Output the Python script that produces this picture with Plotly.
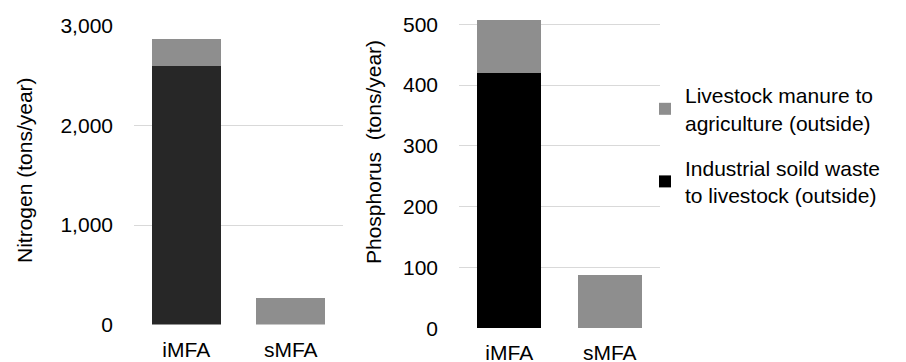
import plotly.graph_objects as go

categories = ["iMFA", "sMFA"]
n_industrial = [2600, 0]
n_manure = [270, 265]
p_industrial = [420, 0]
p_manure = [87, 88]
n_ticks = [0, 1000, 2000, 3000]
n_ticktext = ["0", "1,000", "2,000", "3,000"]
p_ticks = [0, 100, 200, 300, 400, 500]

W, H = 906, 362
GRAY = "#8e8e8e"
FONT = "Liberation Sans, Arial, sans-serif"
FS = 21
IND = "Industrial soild waste<br>to livestock (outside)"
MAN = "Livestock manure to<br>agriculture (outside)"

fig = go.Figure()
fig.add_trace(go.Bar(x=categories, y=n_industrial, marker_color="#272727", width=0.66,
                     name=IND, legendgroup="ind", legendrank=2, showlegend=False,
                     xaxis="x", yaxis="y"))
fig.add_trace(go.Bar(x=categories, y=n_manure, marker_color=GRAY, width=0.66,
                     name=MAN, legendgroup="man", legendrank=1, showlegend=False,
                     xaxis="x", yaxis="y"))
fig.add_trace(go.Bar(x=categories, y=p_industrial, marker_color="#000000", width=0.64,
                     name=IND, legendgroup="ind", legendrank=2, showlegend=True,
                     xaxis="x2", yaxis="y2"))
fig.add_trace(go.Bar(x=categories, y=p_manure, marker_color=GRAY, width=0.64,
                     name=MAN, legendgroup="man", legendrank=1, showlegend=True,
                     xaxis="x2", yaxis="y2"))
fig.update_traces(marker_line_width=0)

def px_x(v):
    return v / W

def px_y(v):
    return 1 - v / H

axis_common = dict(showline=False, zeroline=False, ticks="", automargin=False,
                   tickfont=dict(family=FONT, size=FS, color="#000000"))

fig.update_layout(
    width=W, height=H,
    barmode="stack",
    plot_bgcolor="white", paper_bgcolor="white",
    margin=dict(l=0, r=0, t=0, b=0),
    font=dict(family=FONT, size=FS, color="#000000"),
    xaxis=dict(domain=[px_x(134), px_x(343)], anchor="y", showgrid=False,
               ticklabelstandoff=10, **axis_common),
    yaxis=dict(domain=[px_y(324.5), px_y(26)], anchor="x", range=[0, 3000],
               tickvals=n_ticks, ticktext=n_ticktext, showgrid=True,
               gridcolor="#d9d9d9", gridwidth=1, ticklabelstandoff=20, **axis_common),
    xaxis2=dict(domain=[px_x(459), px_x(660)], anchor="y2", showgrid=False,
                ticklabelstandoff=10, **axis_common),
    yaxis2=dict(domain=[px_y(328.3), px_y(12.1)], anchor="x2", range=[0, 520],
                tickvals=p_ticks, showgrid=True, gridcolor="#d9d9d9", gridwidth=1,
                ticklabelstandoff=20, **axis_common),
    legend=dict(x=px_x(645), y=px_y(75), xanchor="left", yanchor="top",
                traceorder="grouped", tracegroupgap=15,
                font=dict(family=FONT, size=FS, color="#000000"),
                bgcolor="rgba(0,0,0,0)"),
    showlegend=True,
)

fig.add_annotation(text="Nitrogen (tons/year)", textangle=-90, xref="paper", yref="paper",
                   x=px_x(24), y=px_y(170), showarrow=False, xanchor="center", yanchor="middle",
                   font=dict(family=FONT, size=FS, color="#000000"))
fig.add_annotation(text="Phosphorus\u00a0 (tons/year)", textangle=-90, xref="paper", yref="paper",
                   x=px_x(373), y=px_y(152), showarrow=False, xanchor="center", yanchor="middle",
                   font=dict(family=FONT, size=FS, color="#000000"))

fig.write_html("out.html", config={"displayModeBar": False},
               post_script="document.body.style.margin='0px';")
